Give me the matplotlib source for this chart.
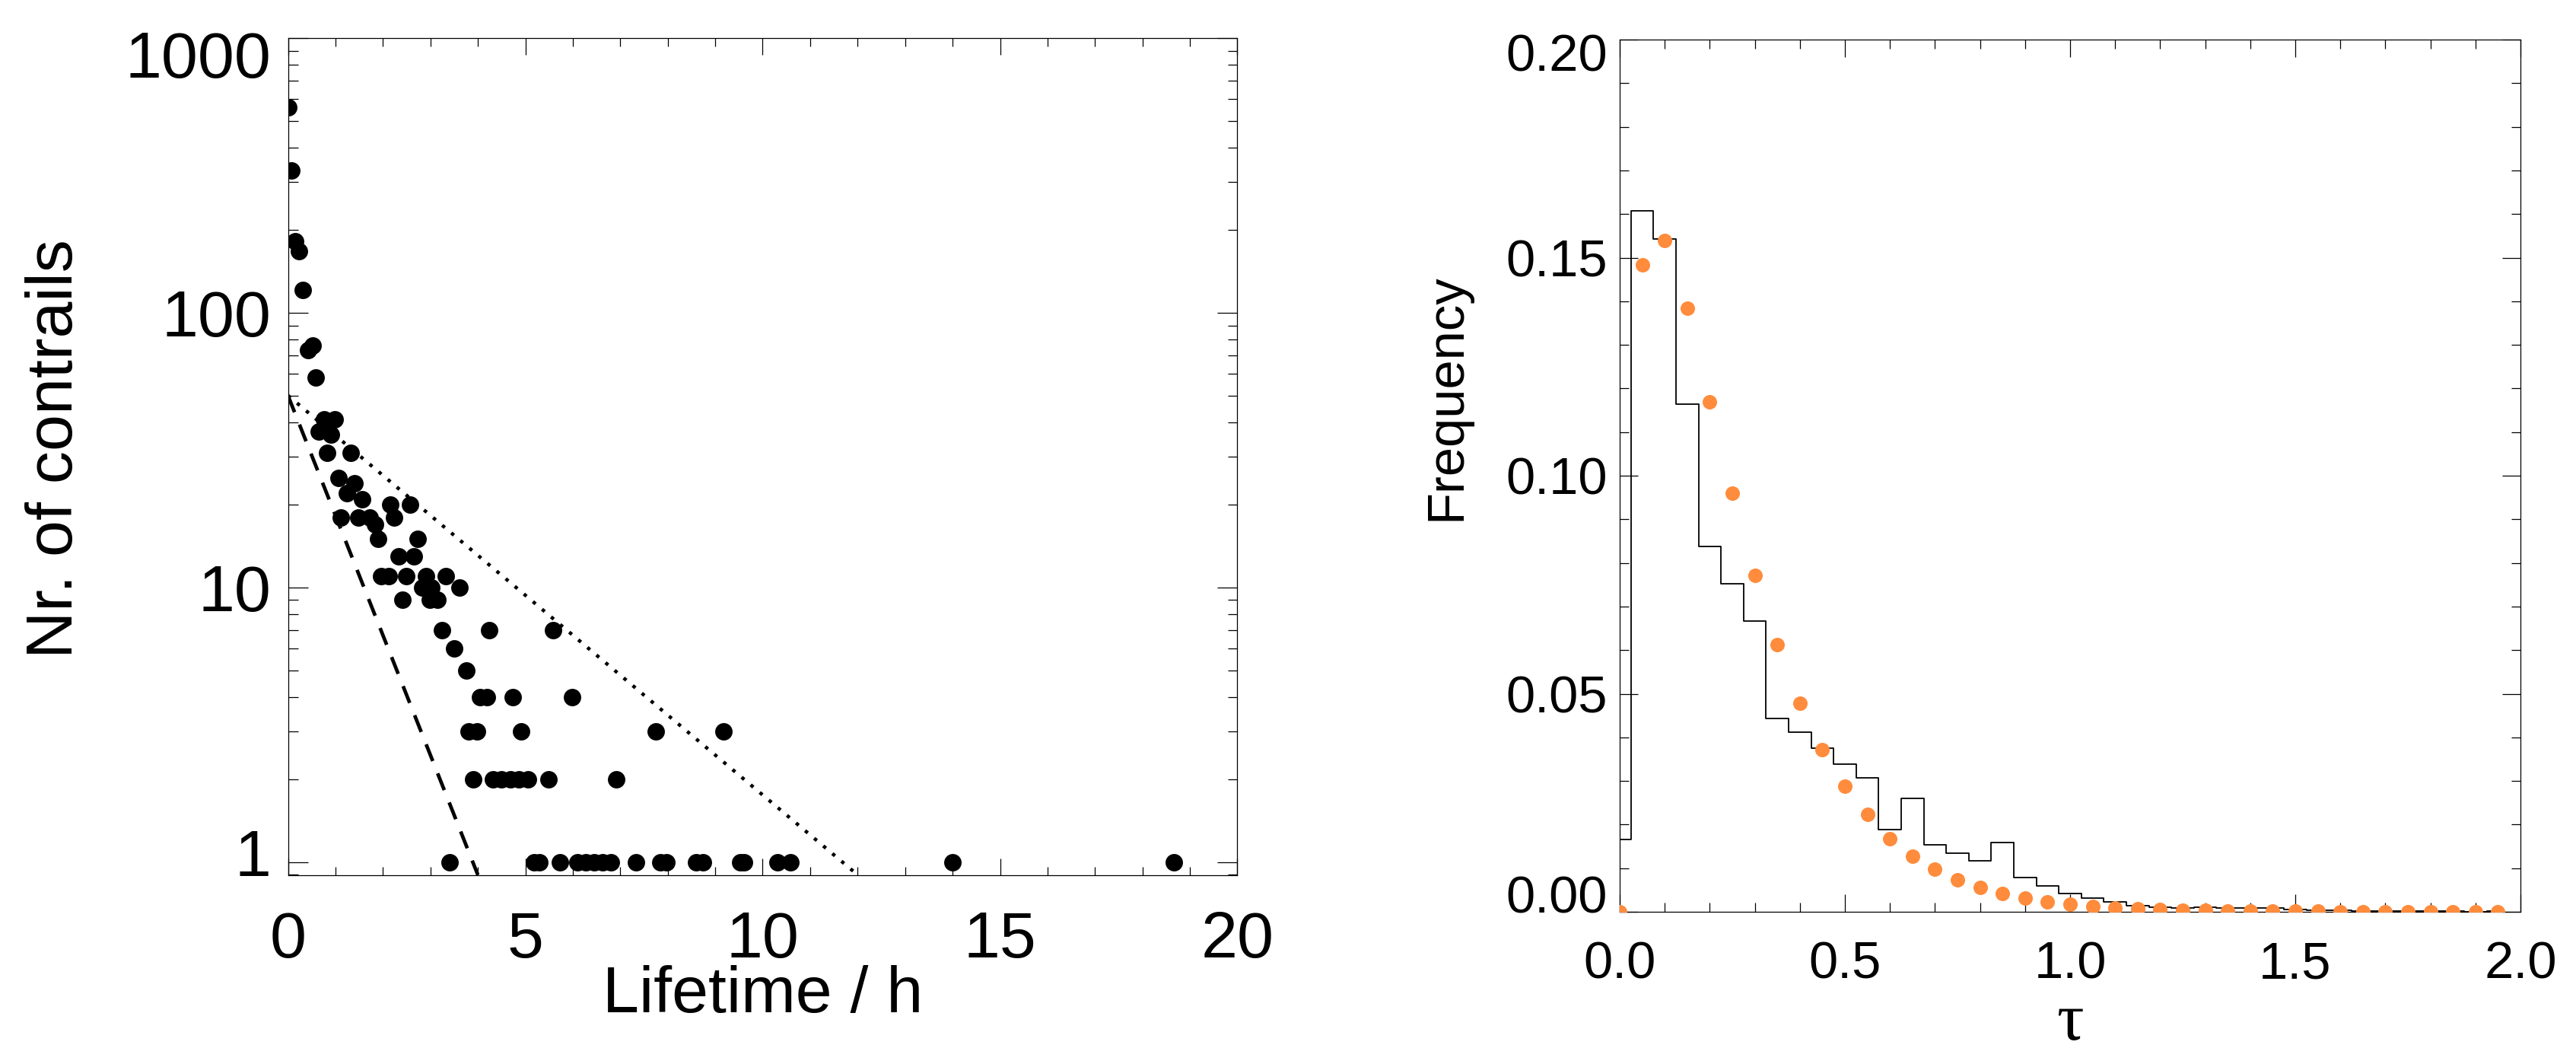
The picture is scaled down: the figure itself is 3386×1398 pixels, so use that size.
import matplotlib
matplotlib.use('Agg')
import matplotlib.pyplot as plt
import matplotlib.ticker as mticker
from matplotlib.transforms import ScaledTranslation

# ---------------- data ----------------
lifetime_h = [0.00, 0.08, 0.16, 0.24, 0.32, 0.42, 0.52, 0.59, 0.65, 0.76,
              0.83, 0.90, 0.99, 1.07, 1.12, 1.24, 1.32, 1.40, 1.49, 1.57,
              1.73, 1.83, 1.90, 1.96, 2.12, 2.16, 2.24, 2.33, 2.41, 2.49,
              2.58, 2.65, 2.74, 2.83, 2.91, 2.99, 3.02, 3.15, 3.24, 3.33,
              3.40, 3.50, 3.61, 3.75, 3.80, 3.91, 3.99, 4.04, 4.19, 4.24,
              4.32, 4.50, 4.69, 4.74, 4.87, 4.91, 5.06, 5.18, 5.30, 5.49,
              5.58, 5.73, 5.99, 6.10, 6.28, 6.45, 6.63, 6.81, 6.91, 7.33,
              7.75, 7.85, 7.97, 8.59, 8.75, 9.17, 9.53, 9.60, 10.31, 10.59,
              14.00, 18.66]
n_contrails = [560, 330, 182, 168, 121, 73, 76, 58, 37, 41,
               31, 36, 41, 25, 18, 22, 31, 24, 18, 21,
               18, 17, 15, 11, 11, 20, 18, 13, 9, 11,
               20, 13, 15, 10, 11, 9, 10, 9, 7, 11,
               1, 6, 10, 5, 3, 2, 3, 4, 4, 7,
               2, 2, 2, 4, 2, 3, 2, 1, 1, 2,
               7, 1, 4, 1, 1, 1, 1, 1, 2, 1,
               3, 1, 1, 1, 1, 3, 1, 1, 1, 1,
               1, 1]

# exponential reference lines (straight on log axis): endpoints
dashed_x = [0.0, 4.0]
dashed_y = [50.0, 0.9]
dotted_x = [0.0, 12.0]
dotted_y = [50.0, 0.9]

left_xticks = [0, 5, 10, 15, 20]
left_yticks = [1, 10, 100, 1000]
left_yticklabels = ['1', '10', '100', '1000']

tau_centers = [0.00, 0.05, 0.10, 0.15, 0.20, 0.25, 0.30, 0.35, 0.40, 0.45,
               0.50, 0.55, 0.60, 0.65, 0.70, 0.75, 0.80, 0.85, 0.90, 0.95,
               1.00, 1.05, 1.10, 1.15, 1.20, 1.25, 1.30, 1.35, 1.40, 1.45,
               1.50, 1.55, 1.60, 1.65, 1.70, 1.75, 1.80, 1.85, 1.90, 1.95]
hist_freq = [0.0165, 0.1608, 0.1542, 0.1164, 0.0837, 0.0752, 0.0666, 0.0444, 0.0411, 0.0375,
             0.0339, 0.0308, 0.0188, 0.0260, 0.0153, 0.0135, 0.0117, 0.0159, 0.0079, 0.0059,
             0.0042, 0.0031, 0.0022, 0.0014, 0.0011, 0.0009, 0.0011, 0.0009, 0.0009, 0.0008,
             0.0006, 0.0003, 0.0003, 0.0002, 0.0002, 0.0001, 0.0001, 0.0001, 0.0000, 0.0001]
model_freq = [0.0000, 0.1483, 0.1539, 0.1384, 0.1170, 0.0960, 0.0772, 0.0612, 0.0479, 0.0372,
              0.0288, 0.0223, 0.0168, 0.0128, 0.0098, 0.0073, 0.0056, 0.0042, 0.0031, 0.0023,
              0.0017, 0.0012, 0.0009, 0.0007, 0.0005, 0.0004, 0.0003, 0.0002, 0.0002, 0.0001,
              0.0001, 0.0001, 0.0000, 0.0000, 0.0000, 0.0000, 0.0000, 0.0000, 0.0000, 0.0000]

right_xticks = [0.0, 0.5, 1.0, 1.5, 2.0]
right_xticklabels = ['0.0', '0.5', '1.0', '1.5', '2.0']
right_yticks = [0.00, 0.05, 0.10, 0.15, 0.20]
right_yticklabels = ['0.00', '0.05', '0.10', '0.15', '0.20']

# ---------------- figure ----------------
plt.rcParams['font.family'] = ['Liberation Sans', 'DejaVu Sans']
W, H, DPI = 3387, 1398, 100
fig = plt.figure(figsize=(W / DPI, H / DPI), dpi=DPI)

def px_axes(l, t, r, b):
    return fig.add_axes([l / W, 1 - b / H, (r - l) / W, (b - t) / H])

axL = px_axes(378.5, 50, 1626.5, 1150)
axR = px_axes(2129, 52, 3313, 1198)

ORANGE = '#FF8C3C'
FS_L = 62
FS_R = 49.5

# ----- left panel -----
axL.set_yscale('log')
axL.plot(dotted_x, dotted_y, color='black', lw=3.3, ls=(0, (1.0, 2.4)),
         dash_capstyle='butt', zorder=2)
axL.plot(dashed_x, dashed_y, color='black', lw=3.4, ls=(0, (5.0, 3.7)),
         dash_capstyle='butt', zorder=2)
axL.plot(lifetime_h, n_contrails, 'o', color='black', markersize=16.5,
         markeredgewidth=0, zorder=3)
axL.set_xlim(0, 20)
axL.set_ylim(0.897, 1000)
axL.set_xticks(left_xticks)
axL.set_xticklabels([str(v) for v in left_xticks])
axL.xaxis.set_minor_locator(mticker.MultipleLocator(1))
axL.set_yticks(left_yticks)
axL.set_yticklabels(left_yticklabels)
axL.yaxis.set_minor_locator(mticker.LogLocator(base=10, subs=range(2, 10), numticks=20))
axL.yaxis.set_minor_formatter(mticker.NullFormatter())
axL.tick_params(which='both', direction='in', top=True, right=True,
                width=0.9, labelsize=FS_L, color='black')
axL.tick_params(axis='x', which='major', length=16, pad=33)
axL.tick_params(axis='x', which='minor', length=8)
axL.tick_params(axis='y', which='major', length=18.4, pad=16)
axL.tick_params(axis='y', which='minor', length=9)
for s in axL.spines.values():
    s.set_linewidth(0.9)
axL.set_xlabel('Lifetime / h', fontsize=FS_L, va='baseline')
axL.xaxis.set_label_coords(0.5, (1150 - 1330) / 1100)
axL.set_ylabel('Nr. of contrails', fontsize=FS_L, va='baseline')
axL.yaxis.set_label_coords((95 - 378.5) / 1248, (1150 - 590) / 1100)

# ----- right panel -----
axR.step(tau_centers, hist_freq, where='mid', color='black', lw=1.3, zorder=2)
axR.plot(tau_centers, model_freq, 'o', color=ORANGE, markersize=13.7,
         markeredgewidth=0, zorder=3)
axR.set_xlim(0, 2.0)
axR.set_ylim(0, 0.2)
axR.set_xticks(right_xticks)
axR.set_xticklabels(right_xticklabels)
axR.xaxis.set_minor_locator(mticker.MultipleLocator(0.1))
axR.set_yticks(right_yticks)
axR.set_yticklabels(right_yticklabels)
axR.yaxis.set_minor_locator(mticker.MultipleLocator(0.01))
axR.tick_params(which='both', direction='in', top=True, right=True,
                width=0.9, labelsize=FS_R, color='black')
axR.tick_params(axis='x', which='major', length=16.5, pad=27)
axR.tick_params(axis='x', which='minor', length=8.3)
axR.tick_params(axis='y', which='major', length=17, pad=11.5)
axR.tick_params(axis='y', which='minor', length=8.6)
for s in axR.spines.values():
    s.set_linewidth(0.9)
axR.set_xlabel('τ', fontsize=64, va='baseline',
               family=['Liberation Serif', 'DejaVu Serif'])
axR.xaxis.set_label_coords(0.5, (1198 - 1366) / 1146)
axR.set_ylabel('Frequency', fontsize=FS_R, va='baseline')
axR.yaxis.set_label_coords((1919 - 2129) / 1184, (1198 - 522) / 1146)

# shift the end y tick labels inward like the original
def shift(ax, idx, dy_px):
    t = ax.yaxis.get_major_ticks()[idx]
    lab = t.label1
    lab.set_transform(lab.get_transform() +
                      ScaledTranslation(0, dy_px / DPI, fig.dpi_scale_trans))

shift(axL, 0, 13)
shift(axL, 3, -21)
shift(axR, 0, 23)
shift(axR, 4, -17)

fig.savefig('out.png', dpi=DPI, facecolor='white')
